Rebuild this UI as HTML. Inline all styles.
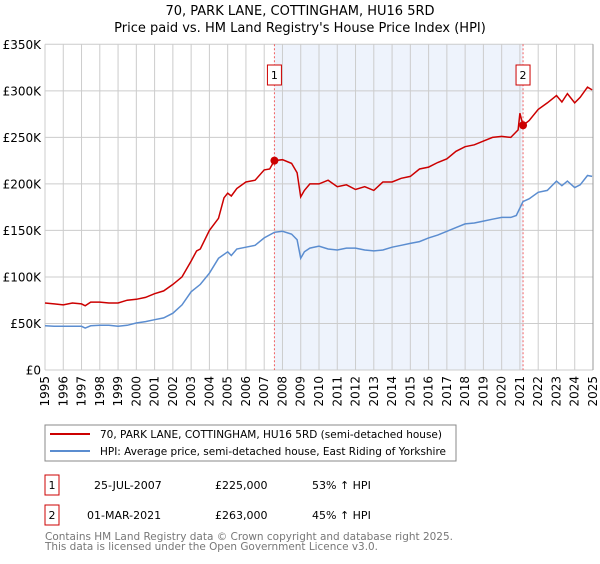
<!DOCTYPE html>
<html><head><meta charset="utf-8"><style>
body{margin:0;background:#fff;width:600px;height:560px;overflow:hidden;font-family:"DejaVu Sans","Liberation Sans",sans-serif}
svg text{font-family:"DejaVu Sans","Liberation Sans",sans-serif}
</style></head><body>
<svg id="c" width="600" height="560">
<text x="300" y="15" text-anchor="middle" font-size="13">70, PARK LANE, COTTINGHAM, HU16 5RD</text>
<text x="300" y="32" text-anchor="middle" font-size="13">Price paid vs. HM Land Registry's House Price Index (HPI)</text>
<g id="plot"></g>
<g>
<rect x="45" y="425" width="411" height="36" fill="#fff" stroke="#888"/>
<line x1="50" y1="434" x2="90" y2="434" stroke="#cc0000" stroke-width="2"/>
<text x="100" y="438" font-size="10.5" textLength="342" lengthAdjust="spacingAndGlyphs">70, PARK LANE, COTTINGHAM, HU16 5RD (semi-detached house)</text>
<line x1="50" y1="451" x2="90" y2="451" stroke="#5b8dd0" stroke-width="2"/>
<text x="100" y="455" font-size="10.5" textLength="346" lengthAdjust="spacingAndGlyphs">HPI: Average price, semi-detached house, East Riding of Yorkshire</text>
</g>
<g font-size="11">
<rect x="45" y="475" width="14" height="20" fill="#fff" stroke="#cc0000"/>
<text x="52" y="489" text-anchor="middle">1</text>
<text x="94" y="489">25-JUL-2007</text>
<text x="215" y="489">£225,000</text>
<text x="312" y="489">53% ↑ HPI</text>
<rect x="45" y="505" width="14" height="20" fill="#fff" stroke="#cc0000"/>
<text x="52" y="519" text-anchor="middle">2</text>
<text x="87" y="519">01-MAR-2021</text>
<text x="215" y="519">£263,000</text>
<text x="312" y="519">45% ↑ HPI</text>
</g>
<text x="45" y="540" font-size="10.5" fill="#777" textLength="408" lengthAdjust="spacingAndGlyphs">Contains HM Land Registry data © Crown copyright and database right 2025.</text>
<text x="45" y="550" font-size="10.5" fill="#777" textLength="333" lengthAdjust="spacingAndGlyphs">This data is licensed under the Open Government Licence v3.0.</text>
</svg>
<script>
const yTicks=[0,50,100,150,200,250,300,350];
const yTickLabels=["£0","£50K","£100K","£150K","£200K","£250K","£300K","£350K"];
const years=[1995,1996,1997,1998,1999,2000,2001,2002,2003,2004,2005,2006,2007,2008,2009,2010,2011,2012,2013,2014,2015,2016,2017,2018,2019,2020,2021,2022,2023,2024,2025];
const saleDates=[2007.56,2021.17];
const salePrices=[225,263];
const saleLabels=["1","2"];
const redT=[1995,1995.5,1996,1996.5,1997,1997.2,1997.5,1998,1998.5,1999,1999.5,2000,2000.5,2001,2001.5,2002,2002.5,2003,2003.3,2003.5,2004,2004.5,2004.8,2005,2005.2,2005.5,2006,2006.5,2007,2007.3,2007.56,2008,2008.5,2008.8,2009,2009.2,2009.5,2010,2010.5,2011,2011.5,2012,2012.5,2013,2013.5,2014,2014.5,2015,2015.5,2016,2016.5,2017,2017.5,2018,2018.5,2019,2019.5,2020,2020.5,2020.9,2021,2021.17,2021.5,2022,2022.5,2023,2023.3,2023.6,2024,2024.3,2024.7,2024.95];
const redV=[72,71,70,72,71,69,73,73,72,72,75,76,78,82,85,92,100,117,128,130,150,163,185,190,187,195,202,204,215,216,225,226,222,212,186,193,200,200,204,197,199,194,197,193,202,202,206,208,216,218,223,227,235,240,242,246,250,251,250,258,276,263,268,280,287,295,288,297,287,293,304,301];
const blueT=[1995,1995.5,1996,1996.5,1997,1997.2,1997.5,1998,1998.5,1999,1999.5,2000,2000.5,2001,2001.5,2002,2002.5,2003,2003.5,2004,2004.5,2005,2005.2,2005.5,2006,2006.5,2007,2007.56,2008,2008.5,2008.8,2009,2009.2,2009.5,2010,2010.5,2011,2011.5,2012,2012.5,2013,2013.5,2014,2014.5,2015,2015.5,2016,2016.5,2017,2017.5,2018,2018.5,2019,2019.5,2020,2020.5,2020.8,2021.17,2021.5,2022,2022.5,2023,2023.3,2023.6,2024,2024.3,2024.7,2024.95];
const blueV=[47.6,47,47,47,47,45,47.5,48,48,47,48,50.5,52,54,56,61,70,84,92,104,120,127,123,130,132,134,142,148,149,146,140,120,127,131,133,130,129,131,131,129,128,129,132,134,136,138,142,145,149,153,157,158,160,162,164,164,166,181,184,191,193,203,198,203,196,199,209,208];
const NS="http://www.w3.org/2000/svg";
const g=document.getElementById('plot');
const X0=45,X1=593,Y0=370,Y1=44.3;
const xs=t=>X0+(t-1995)/30*(X1-X0);
const ys=v=>Y0-v/350*(Y0-Y1);
function el(tag,a,parent){const e=document.createElementNS(NS,tag);for(const k in a)e.setAttribute(k,a[k]);(parent||g).appendChild(e);return e;}
const bg=el('rect',{x:X0,y:Y1,width:X1-X0,height:Y0-Y1,fill:'#fff'});


const sh=el('rect',{x:xs(saleDates[0]),y:Y1,width:xs(saleDates[1])-xs(saleDates[0]),height:Y0-Y1,fill:'#eef3fc'});


years.forEach(y=>{
 const l=el('line',{x1:xs(y),x2:xs(y),y1:Y1,y2:Y0,stroke:'#ccc','stroke-width':1});
 
 
 const t=el('text',{x:0,y:0,'font-size':12,'text-anchor':'end',transform:`translate(${xs(y)+4},${Y0+6}) rotate(-90)`});
 t.textContent=y;
 
 
});
yTicks.forEach((v,i)=>{
 const l=el('line',{x1:X0,x2:X1,y1:ys(v),y2:ys(v),stroke:'#ccc','stroke-width':1});
 
 
 const t=el('text',{x:X0-4,y:ys(v)+4.5,'font-size':12,'text-anchor':'end'});
 t.textContent=yTickLabels[i];
 
 
});
const ax=el('line',{x1:X1,x2:X1,y1:Y1,y2:Y0,stroke:'#999','stroke-width':1});


saleDates.forEach((d,i)=>{
 const l=el('line',{x1:xs(d),x2:xs(d),y1:Y1,y2:Y0,stroke:'#f06060','stroke-width':1,'stroke-dasharray':'2,2'});
 
 
});
const pts=(T,V)=>T.map((t,i)=>xs(t).toFixed(1)+','+ys(V[i]).toFixed(1)).join(' ');
const bl=el('polyline',{points:pts(blueT,blueV),fill:'none',stroke:'#5b8dd0','stroke-width':1.5});


const rl=el('polyline',{points:pts(redT,redV),fill:'none',stroke:'#cc0000','stroke-width':1.5});


saleDates.forEach((d,i)=>{
 const c=el('circle',{cx:xs(d),cy:ys(salePrices[i]),r:4,fill:'#cc0000'});
 
 
 const r=el('rect',{x:xs(d)-7,y:65,width:14,height:20,fill:'#fff',stroke:'#cc0000'});
 
 
 const t=el('text',{x:xs(d),y:79,'font-size':11,'text-anchor':'middle'});
 t.textContent=saleLabels[i];
 
 
});
</script>
</body></html>
